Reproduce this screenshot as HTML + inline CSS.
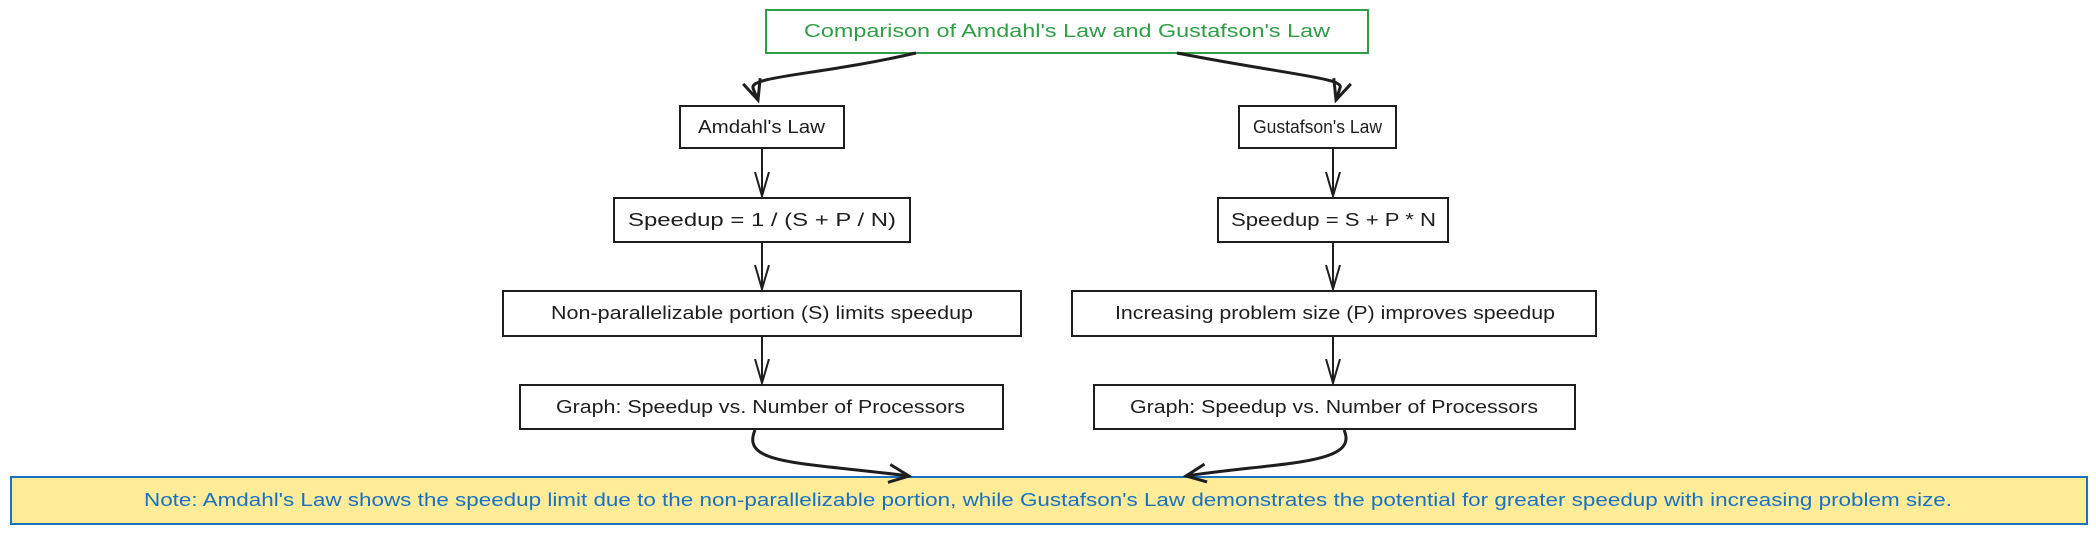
<!DOCTYPE html>
<html><head><meta charset="utf-8"><style>
html,body{margin:0;padding:0;background:#fff;}
svg{display:block;}
text{font-family:"Liberation Sans",sans-serif;font-size:18px;}
</style></head><body>
<svg width="2096" height="534" viewBox="0 0 2096 534" xmlns="http://www.w3.org/2000/svg">
<defs>
<marker id="ah" markerWidth="30" markerHeight="30" refX="24" refY="15" orient="auto" markerUnits="userSpaceOnUse">
<path d="M0,8 L24,15 L0,22" fill="none" stroke="#1e1e1e" stroke-width="2"/>
</marker>
<marker id="ah3" markerWidth="30" markerHeight="30" refX="24" refY="15" orient="auto" markerUnits="userSpaceOnUse">
<path d="M4,6 L24,15 L4,24" fill="none" stroke="#1e1e1e" stroke-width="3"/>
</marker>
</defs>
<rect x="766" y="10" width="602" height="43" fill="none" stroke="#2f9e44" stroke-width="2"/>
<rect x="11" y="477" width="2076" height="47" fill="#ffec99" stroke="#1971c2" stroke-width="2"/>
<g fill="none" stroke="#1e1e1e" stroke-width="2">
<rect x="680" y="106" width="164" height="42"/>
<rect x="1239" y="106" width="157" height="42"/>
<rect x="614" y="198" width="296" height="44"/>
<rect x="1218" y="198" width="230" height="44"/>
<rect x="503" y="291" width="518" height="45"/>
<rect x="1072" y="291" width="524" height="45"/>
<rect x="520" y="385" width="483" height="44"/>
<rect x="1094" y="385" width="481" height="44"/>
<line x1="762" y1="148" x2="762" y2="196" marker-end="url(#ah)"/>
<line x1="762" y1="242" x2="762" y2="289" marker-end="url(#ah)"/>
<line x1="762" y1="336" x2="762" y2="383" marker-end="url(#ah)"/>
<line x1="1333" y1="148" x2="1333" y2="196" marker-end="url(#ah)"/>
<line x1="1333" y1="242" x2="1333" y2="289" marker-end="url(#ah)"/>
<line x1="1333" y1="336" x2="1333" y2="383" marker-end="url(#ah)"/>
<path d="M916,53 C820,75 750,76 753,88 C755,94 757,97 758,100" stroke-width="3" marker-end="url(#ah3)"/>
<path d="M1177,53 C1290,75 1345,78 1340,88 C1338,94 1337,97 1336,100" stroke-width="3" marker-end="url(#ah3)"/>
<path d="M755,430 C740,465 800,462 909,476" stroke-width="3" marker-end="url(#ah3)"/>
<path d="M1344,430 C1360,465 1280,462 1186,476" stroke-width="3" marker-end="url(#ah3)"/>
</g>
<g fill="#1e1e1e">
<text x="698" y="133" textLength="127" lengthAdjust="spacingAndGlyphs">Amdahl's Law</text>
<text x="1253" y="133" textLength="129" lengthAdjust="spacingAndGlyphs">Gustafson's Law</text>
<text x="628" y="226" textLength="268" lengthAdjust="spacingAndGlyphs">Speedup = 1 / (S + P / N)</text>
<text x="1231" y="226" textLength="205" lengthAdjust="spacingAndGlyphs">Speedup = S + P * N</text>
<text x="551" y="319" textLength="422" lengthAdjust="spacingAndGlyphs">Non-parallelizable portion (S) limits speedup</text>
<text x="1115" y="319" textLength="440" lengthAdjust="spacingAndGlyphs">Increasing problem size (P) improves speedup</text>
<text x="556" y="413" textLength="409" lengthAdjust="spacingAndGlyphs">Graph: Speedup vs. Number of Processors</text>
<text x="1130" y="413" textLength="408" lengthAdjust="spacingAndGlyphs">Graph: Speedup vs. Number of Processors</text>
</g>
<text x="804" y="37" fill="#2f9e44" textLength="526" lengthAdjust="spacingAndGlyphs">Comparison of Amdahl's Law and Gustafson's Law</text>
<text x="144" y="506" fill="#1971c2" textLength="1808" lengthAdjust="spacingAndGlyphs">Note: Amdahl's Law shows the speedup limit due to the non-parallelizable portion, while Gustafson's Law demonstrates the potential for greater speedup with increasing problem size.</text>
</svg>
</body></html>
